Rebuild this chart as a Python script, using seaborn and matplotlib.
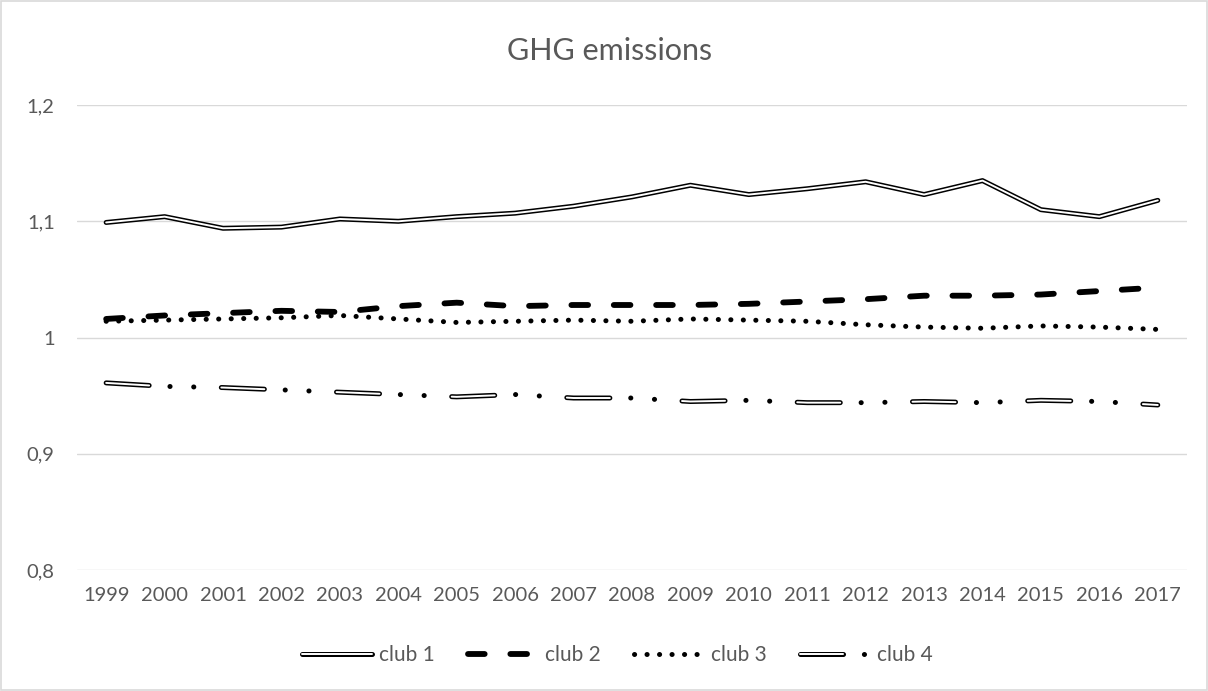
import numpy as np
import pandas as pd
import matplotlib
matplotlib.use("Agg")
import matplotlib.pyplot as plt
from matplotlib.legend_handler import HandlerTuple
from matplotlib.patches import Rectangle
from matplotlib.ticker import FuncFormatter
import seaborn as sns

years = list(range(1999, 2018))
club_1 = [1.099, 1.104, 1.094, 1.095, 1.102, 1.100, 1.104, 1.107, 1.113, 1.121,
          1.131, 1.123, 1.128, 1.134, 1.123, 1.135, 1.110, 1.104, 1.118]
club_2 = [1.016, 1.019, 1.021, 1.023, 1.022, 1.027, 1.030, 1.027, 1.028, 1.028,
          1.028, 1.029, 1.031, 1.033, 1.036, 1.036, 1.037, 1.040, 1.043]
club_3 = [1.014, 1.015, 1.016, 1.017, 1.019, 1.016, 1.013, 1.014, 1.015, 1.014,
          1.016, 1.015, 1.014, 1.011, 1.009, 1.008, 1.010, 1.009, 1.007]
club_4 = [0.961, 0.958, 0.957, 0.955, 0.953, 0.951, 0.949, 0.951, 0.948, 0.948,
          0.945, 0.946, 0.944, 0.944, 0.945, 0.944, 0.946, 0.945, 0.942]
labels = ["club 1", "club 2", "club 3", "club 4"]
y_ticks = [0.8, 0.9, 1.0, 1.1, 1.2]

sns.set_theme(style="white")
plt.rcParams["font.family"] = ["Lato", "DejaVu Sans"]
plt.rcParams["lines.scale_dashes"] = False
TXT = "#595959"
GRID = "#d9d9d9"

df = pd.DataFrame({"year": years, "club 1": club_1, "club 2": club_2,
                   "club 3": club_3, "club 4": club_4})

fig = plt.figure(figsize=(12.08, 6.91), dpi=100)
ax = fig.add_axes([0.0637, 0.175, 0.9189, 0.673])

# outer (black) strokes
outer = {
    "club 1": dict(lw=3.6, dashes=None),
    "club 2": dict(lw=4.2, dashes=(12, 18.5)),
    "club 3": dict(lw=3.6, dashes=(0.1, 8.9)),
    "club 4": dict(lw=3.6, dashes=(31, 15, 0.1, 17, 0.1, 19.8)),
}
# inner (white) strokes for the double-line look
inner = {
    "club 1": dict(lw=1.4, dashes=None),
    "club 4": dict(lw=1.4, dashes=(31, 15 + 0.1 + 17 + 0.1 + 19.8)),
}

handles = []
for name in labels:
    o = outer[name]
    sns.lineplot(data=df, x="year", y=name, ax=ax, color="black", lw=o["lw"])
    ln = ax.lines[-1]
    ln.set_solid_capstyle("round")
    ln.set_dash_capstyle("round")
    ln.set_solid_joinstyle("round")
    if o["dashes"] is not None:
        ln.set_dashes(o["dashes"])
    parts = [ln]
    if name in inner:
        i = inner[name]
        sns.lineplot(data=df, x="year", y=name, ax=ax, color="white", lw=i["lw"])
        wl = ax.lines[-1]
        wl.set_solid_capstyle("round")
        wl.set_dash_capstyle("round")
        wl.set_solid_joinstyle("round")
        if i["dashes"] is not None:
            wl.set_dashes(i["dashes"])
        parts.append(wl)
    handles.append(tuple(parts))

ax.set_xlim(years[0] - 0.5, years[-1] + 0.5)
ax.set_ylim(0.8, 1.2)
ax.set_xticks(years)
ax.set_yticks(y_ticks)
ax.yaxis.set_major_formatter(FuncFormatter(
    lambda v, p: ("%g" % round(v, 2)).replace(".", ",")))
ax.grid(axis="y", color=GRID, lw=1)
ax.set_axisbelow(True)
for s in ax.spines.values():
    s.set_visible(False)
ax.tick_params(axis="both", length=0, labelsize=14.5, labelcolor=TXT)
ax.tick_params(axis="x", pad=12)
ax.tick_params(axis="y", pad=16)
ax.set_xlabel("")
ax.set_ylabel("")

fig.text(0.505, 0.926, "GHG emissions", ha="center", va="center",
         fontsize=22, color=TXT)

ax.legend(handles=handles, labels=labels, loc="center",
          bbox_to_anchor=(0.511, 0.052), bbox_transform=fig.transFigure,
          ncol=4, frameon=False, fontsize=15, labelcolor=TXT,
          handlelength=3.4, handletextpad=0.3, columnspacing=1.6,
          handler_map={tuple: HandlerTuple(ndivide=1)})

fig.patches.append(Rectangle((0.001, 0.001), 0.998, 0.998, transform=fig.transFigure,
                             fill=False, edgecolor=GRID, lw=1.2))

fig.savefig("out.png", dpi=100)
